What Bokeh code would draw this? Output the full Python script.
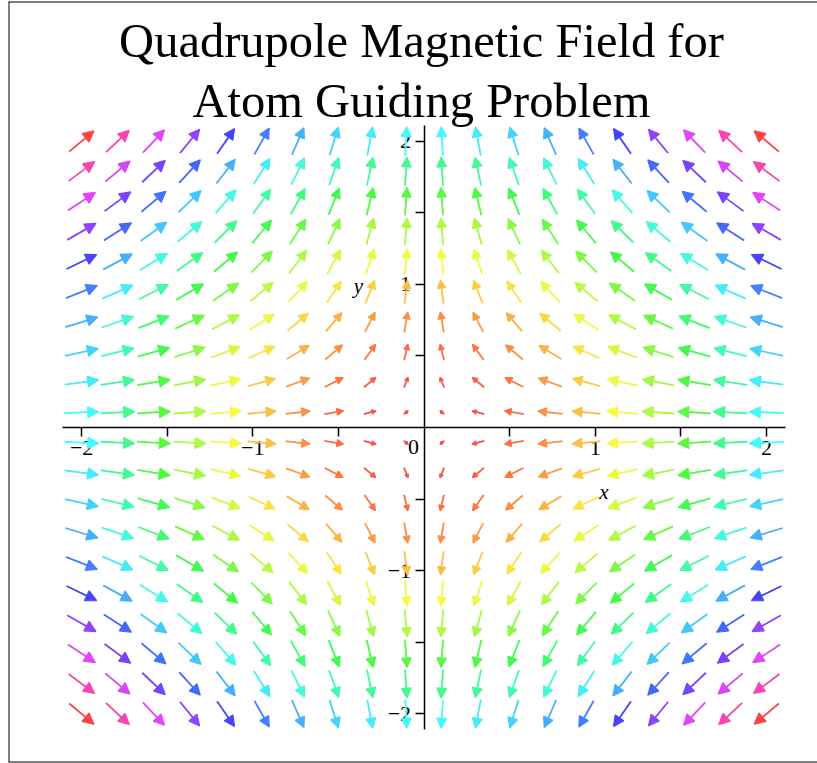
import math
import colorsys

from bokeh.plotting import figure
from bokeh.models import (Range1d, LinearAxis, FixedTicker, Arrow, NormalHead,
                          ColumnDataSource, Label, Span)
from bokeh.core.properties import field
from bokeh.embed import file_html
from bokeh.resources import INLINE

# ---------------- data ----------------
TITLE_LINES = ["Quadrupole Magnetic Field for", "Atom Guiding Problem"]
GRID_X = [-2.0, -1.7895, -1.5789, -1.3684, -1.1579, -0.9474, -0.7368, -0.5263,
          -0.3158, -0.1053, 0.1053, 0.3158, 0.5263, 0.7368, 0.9474, 1.1579,
          1.3684, 1.5789, 1.7895, 2.0]
GRID_Y = [-2.0, -1.7895, -1.5789, -1.3684, -1.1579, -0.9474, -0.7368, -0.5263,
          -0.3158, -0.1053, 0.1053, 0.3158, 0.5263, 0.7368, 0.9474, 1.1579,
          1.3684, 1.5789, 1.7895, 2.0]
X_TICKS = [-2, -1.5, -1, -0.5, 0.5, 1, 1.5, 2]
X_TICK_LABELS = ["\u22122", "", "\u22121", "", "", "1", "", "2"]
Y_TICKS = [-2, -1.5, -1, -0.5, 0.5, 1, 1.5, 2]
Y_TICK_LABELS = ["\u22122", "", "\u22121", "", "", "1", "", "2"]


def field_vec(x, y):
    # quadrupole field B = (-x, y)
    return -x, y

# ---------------- layout ----------------
W, H = 817, 763
ML, MR, MT, MB = 8, 0, 1, 1
X_START, X_END = -2.427, 2.298
Y_START, Y_END = -2.340, 2.976
SX = (W - ML - MR) / (X_END - X_START)
SY = (H - MT - MB) / (Y_END - Y_START)

p = figure(width=W, height=H, x_range=Range1d(X_START, X_END),
           y_range=Range1d(Y_START, Y_END), output_backend="svg",
           toolbar_location=None, x_axis_location=None, y_axis_location=None,
           min_border_left=ML, min_border_right=MR, min_border_top=MT,
           min_border_bottom=MB)
p.outline_line_color = None
p.background_fill_color = "white"
p.border_fill_color = "white"
p.grid.grid_line_color = None

# ---------------- arrows ----------------
mags2 = [sum(c * c for c in field_vec(x, y)) for x in GRID_X for y in GRID_Y]
m2max = max(mags2)
src = dict(x0=[], y0=[], x1=[], y1=[], c=[], hs=[])
for x in GRID_X:
    for y in GRID_Y:
        u, v = field_vec(x, y)
        m = math.hypot(u, v)
        L = 0.205 * math.tanh(m / 0.85)
        dx, dy = u / m * L, v / m * L
        src["x0"].append(x - dx / 2)
        src["y0"].append(y - dy / 2)
        src["x1"].append(x + dx / 2)
        src["y1"].append(y + dy / 2)
        h = (m * m / m2max) % 1.0
        r, g, b = colorsys.hsv_to_rgb(h, 0.72, 0.98)
        src["c"].append("#%02x%02x%02x" % (int(r * 255), int(g * 255), int(b * 255)))
        lpx = math.hypot(dx * SX, dy * SY)
        src["hs"].append(min(11.0, max(3.0, 0.34 * lpx)))

source = ColumnDataSource(src)
arrows = Arrow(source=source, x_start="x0", y_start="y0", x_end="x1", y_end="y1",
               line_color=field("c"), line_width=1.8,
               end=NormalHead(size=field("hs"), fill_color=field("c"),
                              line_color=field("c"), line_width=1.2))
p.add_layout(arrows)

# ---------------- axes ----------------
FONT = "Liberation Serif"
xaxis = LinearAxis(fixed_location=0, bounds=(-2.11, 2.11),
                   ticker=FixedTicker(ticks=X_TICKS, minor_ticks=[]),
                   major_label_overrides={float(t): s for t, s in zip(X_TICKS, X_TICK_LABELS)})
yaxis = LinearAxis(fixed_location=0, bounds=(-2.11, 2.11),
                   ticker=FixedTicker(ticks=Y_TICKS, minor_ticks=[]),
                   major_label_overrides={float(t): s for t, s in zip(Y_TICKS, Y_TICK_LABELS)})
for ax in (xaxis, yaxis):
    ax.axis_line_color = "black"
    ax.axis_line_width = 1.5
    ax.major_tick_line_color = "black"
    ax.major_tick_line_width = 1.5
    ax.major_tick_in = 0
    ax.major_tick_out = 9
    ax.minor_tick_line_color = None
    ax.major_label_text_font = FONT
    ax.major_label_text_font_size = "22px"
    ax.major_label_text_color = "black"
    ax.major_label_standoff = 4
p.add_layout(xaxis, "below")
p.add_layout(yaxis, "left")

p.add_layout(Label(x=-0.061, y=-0.085, text="0", text_font=FONT, text_font_size="22px",
                   text_align="center", text_baseline="top", text_color="black"))
p.add_layout(Label(x=1.05, y=-0.447, text="x", text_font=FONT, text_font_size="21px",
                   text_font_style="italic", text_align="center",
                   text_baseline="alphabetic", text_color="black"))
p.add_layout(Label(x=-0.383, y=0.99, text="y", text_font=FONT, text_font_size="21px",
                   text_font_style="italic", text_align="center",
                   text_baseline="alphabetic", text_color="black"))

# ---------------- title ----------------
TITLE_Y = [2.705, 2.285]
for line, ty in zip(TITLE_LINES, TITLE_Y):
    p.add_layout(Label(x=-0.015, y=ty, text=line, text_font=FONT,
                       text_font_size="48.5px", text_align="center",
                       text_baseline="alphabetic", text_color="black"))

# ---------------- border ----------------
p.add_layout(Span(location=X_START, dimension="height", line_color="black", line_width=2))
p.add_layout(Span(location=Y_END, dimension="width", line_color="black", line_width=2))
p.add_layout(Span(location=Y_START, dimension="width", line_color="black", line_width=2))

open("out.html", "w").write(file_html(p, INLINE))
